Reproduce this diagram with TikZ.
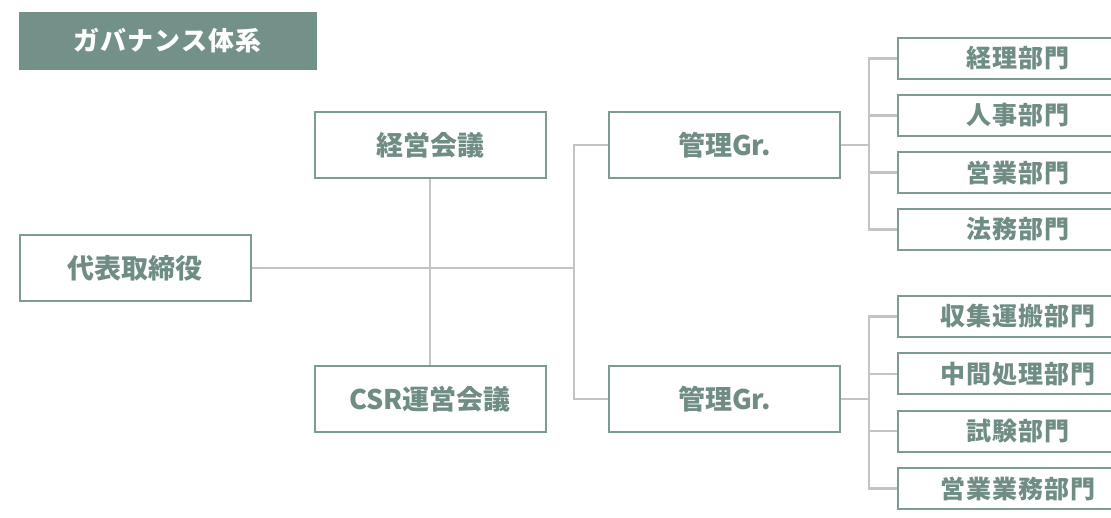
\documentclass[tikz,border=0pt]{standalone}
\usepackage{fontspec}
\setmainfont{Noto Sans CJK JP}
\newfontfamily\mainjp{Noto Sans CJK JP}[LetterSpace=0]
\newfontfamily\deptjp{Noto Sans CJK JP}[LetterSpace=4]
\newfontfamily\titlejp{Noto Sans CJK JP}[LetterSpace=4]
\definecolor{titlec}{HTML}{739189}
\definecolor{boxc}{HTML}{7D9A93}
\definecolor{txtc}{HTML}{6F8D85}
\definecolor{linec}{HTML}{C4C4C4}
\begin{document}
\begin{tikzpicture}[x=1pt,y=-1pt,
  box/.style={draw=boxc, line width=2pt, fill=white, minimum width=231pt, minimum height=66pt,
    inner sep=0pt, text=txtc, font=\mainjp\bfseries\fontsize{27}{30}\selectfont},
  dept/.style={box, minimum width=240pt, minimum height=41pt, font=\deptjp\bfseries\fontsize{25}{28}\selectfont},
  conn/.style={draw=linec, line width=2.2pt}]
\useasboundingbox (0,0) rectangle (1111,518);
\node[fill=titlec, minimum width=298pt, minimum height=58pt, inner sep=0pt, text=white,
  font=\titlejp\bfseries\fontsize{26}{28}\selectfont] (title) at (167.5,41) {ガバナンス体系};
\coordinate (j1) at (574,268);
\coordinate (b1) at (869,145);
\coordinate (b2) at (869,399);
\node[box] (ceo) at (135,268) {代表取締役};
\node[box] (keiei) at (430,145) {経営会議};
\node[box] (csr) at (430,399) {CSR運営会議};
\node[box] (k1) at (724.5,145) {管理Gr.};
\node[box] (k2) at (724.5,399) {管理Gr.};
\node[dept] (d1) at (1017.5,58.5) {経理部門};
\node[dept] (d2) at (1017.5,115.5) {人事部門};
\node[dept] (d3) at (1017.5,172.5) {営業部門};
\node[dept] (d4) at (1017.5,229.5) {法務部門};
\node[dept] (e1) at (1017.5,316.5) {収集運搬部門};
\node[dept] (e2) at (1017.5,374) {中間処理部門};
\node[dept] (e3) at (1017.5,431) {試験部門};
\node[dept] (e4) at (1017.5,488.5) {営業業務部門};
\draw[conn] (ceo.east) -- (j1);
\draw[conn] (keiei.south) -- (csr.north);
\draw[conn] (k1.west) -| (j1) |- (k2.west);
\draw[conn] (k1.east) -- (b1);
\draw[conn] (d1.west) -| (b1) |- (d4.west);
\draw[conn] (d2.west) -- (d2.west -| b1);
\draw[conn] (d3.west) -- (d3.west -| b1);
\draw[conn] (k2.east) -- (b2);
\draw[conn] (e1.west) -| (b2) |- (e4.west);
\draw[conn] (e2.west) -- (e2.west -| b2);
\draw[conn] (e3.west) -- (e3.west -| b2);
\end{tikzpicture}
\end{document}
